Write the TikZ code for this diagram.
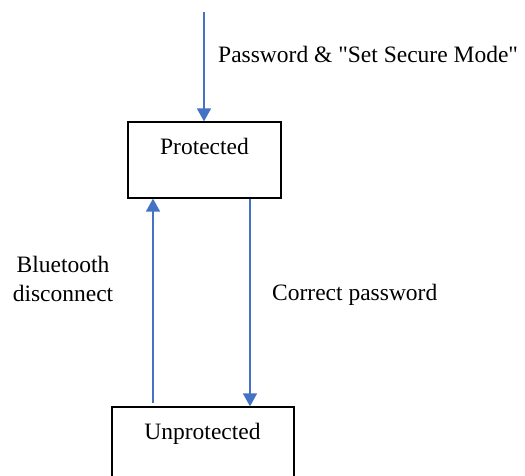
\documentclass[tikz,border=0pt]{standalone}
\usepackage{fontspec}
\setmainfont{Liberation Serif}[Ligatures=TeXOff]
\usetikzlibrary{arrows.meta}
\definecolor{linkblue}{HTML}{4472C4}
\begin{document}
\begin{tikzpicture}[x=1pt,y=-1pt,
  statebox/.style={draw=black, line width=1.3pt, rectangle, inner sep=0pt},
  txt/.style={inner sep=0pt, font=\fontsize{23.5}{29}\selectfont},
  trans/.style={draw=linkblue, line width=1.5pt, -{Triangle[length=13pt,width=14pt]}}]
\useasboundingbox (0,0) rectangle (525,476);
\clip (0,0) rectangle (525,476);

% states
\node[statebox, minimum width=153pt, minimum height=76pt] (prot) at (204.5,160) {};
\node[txt, anchor=base] (protlbl) at (204.5,155) {Protected};
\node[statebox, minimum width=182pt, minimum height=86pt] (unprot) at (203,450) {};
\node[txt, anchor=base] (unprotlbl) at (202.5,439) {Unprotected};

% entry transition
\coordinate (entry) at (204,12);
\draw[trans] (entry) -- (entry |- prot.north);
\node[txt, anchor=base west] (entrylbl) at (218,63)
  {Password \& "Set Secure Mode"};

% Protected -> Unprotected
\coordinate (downx) at (250,0);
\draw[trans] (downx |- prot.south) -- (downx |- unprot.north);
\node[txt, anchor=base west] (downlbl) at (272,300) {Correct password};

% Unprotected -> Protected
\coordinate (upstart) at (153,403);
\draw[trans] (upstart) -- (upstart |- prot.south);
\node[txt, anchor=base, align=center] (uplbl) at (63,301) {Bluetooth\\disconnect};
\end{tikzpicture}
\end{document}
